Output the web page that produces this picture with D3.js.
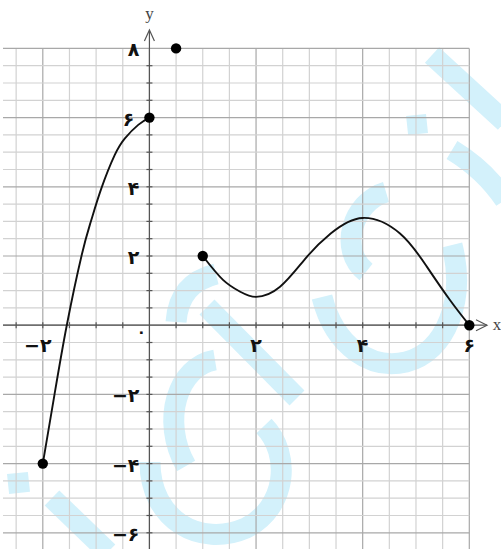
<!DOCTYPE html>
<html>
<head>
<meta charset="utf-8">
<script src="https://cdn.jsdelivr.net/npm/d3@7"></script>
<style>
  html, body { margin: 0; padding: 0; background: #fff; }
  svg { display: block; }
</style>
</head>
<body>
<div id="chart"></div>
<script>
// ---- data ----
const piece1 = [[-2,-4],[-1.78,-2],[-1.55,0],[-1.27,2.03],[-1.10,2.99],[-0.90,3.96],[-0.65,4.92],[-0.46,5.4],[-0.21,5.79],[0,6]];
const piece2 = [[1,2],[1.38,1.31],[1.7,0.97],[2,0.82],[2.45,1.11],[2.95,1.97],[3.4,2.65],[4,3.1],[4.7,2.65],[5.2,1.7],[5.64,0.72],[6,0]];
const dots = [[-2,-4],[0,6],[0.5,8],[1,2],[6,0]];
const xTickValues = [-2, 2, 4, 6];
const xTickLabels = ["\u2212\u06F2", "\u06F2", "\u06F4", "\u06F6"];
const yTickValues = [8, 6, 4, 2, -2, -4, -6];
const yTickLabels = ["\u06F8", "\u06F6", "\u06F4", "\u06F2", "\u2212\u06F2", "\u2212\u06F4", "\u2212\u06F6"];
const zeroLabel = "\u06F0";

// ---- setup ----
const W = 501, H = 549;
const x = d3.scaleLinear().domain([-2, 6]).range([42.8, 469.3]);
const y = d3.scaleLinear().domain([-6, 8]).range([532.8, 48.4]);

const svg = d3.select("#chart").append("svg").attr("width", W).attr("height", H);

// ---- watermark (decoration) ----
const wm = svg.append("g").attr("fill", "none").attr("stroke", "#d3f1fb").attr("stroke-width", 21).attr("stroke-linecap", "butt");
const wmPaths = [
  "M432,55 L505,122",
  "M452,150 Q485,170 505,200",
  "M386,192 C352,202 338,250 366,272",
  "M322,297 C335,348 372,370 406,362 C446,352 466,300 452,245",
  "M207,307 L297,398",
  "M176,322 C178,295 192,280 216,274",
  "M215,360 C178,366 160,420 186,466",
  "M150,462 C150,520 200,548 246,528 C286,508 292,455 264,426",
  "M52,498 L108,552"
];
wmPaths.forEach(p => wm.append("path").attr("d", p));
svg.append("rect").attr("x", 8).attr("y", 473).attr("width", 21).attr("height", 20)
  .attr("fill", "#d3f1fb").attr("transform", "rotate(-6,18,483)");
svg.append("rect").attr("x", 407).attr("y", 115).attr("width", 20).attr("height", 19)
  .attr("fill", "#d3f1fb").attr("transform", "rotate(-6,417,124)");

// ---- grid ----
const grid = svg.append("g");
const vx = d3.range(-2.5, 6.01, 0.5);
const hy = d3.range(-6.5, 8.01, 0.5);
const isMajor = v => Math.abs(v / 2 - Math.round(v / 2)) < 1e-6;
grid.selectAll("line.v").data(vx).join("line")
  .attr("x1", d => x(d)).attr("x2", d => x(d))
  .attr("y1", y(8)).attr("y2", H)
  .attr("stroke", d => isMajor(d) ? "#a8a8a8" : "#d2d2d2")
  .attr("stroke-width", 1.2);
grid.selectAll("line.h").data(hy).join("line")
  .attr("x1", 3).attr("x2", x(6))
  .attr("y1", d => y(d)).attr("y2", d => y(d))
  .attr("stroke", d => isMajor(d) ? "#a8a8a8" : "#d2d2d2")
  .attr("stroke-width", 1.2);

// ---- axes ----
const axisColor = "#555";
const ax = svg.append("g").attr("stroke", axisColor).attr("stroke-width", 1.2).attr("fill", "none");
ax.append("line").attr("x1", 3).attr("x2", 487).attr("y1", y(0)).attr("y2", y(0));
ax.append("line").attr("x1", x(0)).attr("x2", x(0)).attr("y1", H).attr("y2", 31);
ax.append("path").attr("d", `M476,${y(0) - 5.5} L487,${y(0)} L476,${y(0) + 5.5}`);
ax.append("path").attr("d", `M${x(0) - 5},${41} L${x(0)},${30} L${x(0) + 5},${41}`);
// small ticks
const xt = d3.range(-2.5, 5.51, 0.5).filter(v => v !== 0);
ax.selectAll("line.xt").data(xt).join("line")
  .attr("x1", d => x(d)).attr("x2", d => x(d))
  .attr("y1", y(0) - 3).attr("y2", y(0) + 3);
const yt = d3.range(-6.5, 7.51, 0.5).filter(v => v !== 0);
ax.selectAll("line.yt").data(yt).join("line")
  .attr("x1", x(0) - 3).attr("x2", x(0) + 3)
  .attr("y1", d => y(d)).attr("y2", d => y(d));

svg.append("text").attr("x", 497).attr("y", y(0) + 5).attr("text-anchor", "middle")
  .attr("font-family", "Liberation Serif, serif").attr("font-size", 17).attr("fill", "#444").text("x");
svg.append("text").attr("x", x(0)).attr("y", 19).attr("text-anchor", "middle")
  .attr("font-family", "Liberation Serif, serif").attr("font-size", 17).attr("fill", "#444").text("y");

// ---- tick labels ----
const lab = svg.append("g").attr("font-family", "DejaVu Sans, sans-serif").attr("font-weight", "bold")
  .attr("font-size", 19).attr("fill", "#111");
lab.selectAll("text.xl").data(xTickValues).join("text")
  .attr("x", (d, i) => x(d) - (d < 0 ? 5 : 0)).attr("y", y(0) + 27)
  .attr("text-anchor", "middle").text((d, i) => xTickLabels[i]);
lab.selectAll("text.yl").data(yTickValues).join("text")
  .attr("x", d => x(0) - (d === 6 ? 15 : 10)).attr("y", d => y(d) + 8)
  .attr("text-anchor", "end").text((d, i) => yTickLabels[i]);
lab.append("text").attr("x", x(0) - 8).attr("y", y(0) + 12).attr("text-anchor", "middle")
  .attr("font-size", 15).text(zeroLabel);

// ---- curves ----
const line = d3.line().x(d => x(d[0])).y(d => y(d[1])).curve(d3.curveNatural);
[piece1, piece2].forEach(p => svg.append("path").attr("d", line(p))
  .attr("fill", "none").attr("stroke", "#111").attr("stroke-width", 1.9));

svg.selectAll("circle.dot").data(dots).join("circle")
  .attr("cx", d => x(d[0])).attr("cy", d => y(d[1])).attr("r", 5.2).attr("fill", "#000");
</script>
</body>
</html>
